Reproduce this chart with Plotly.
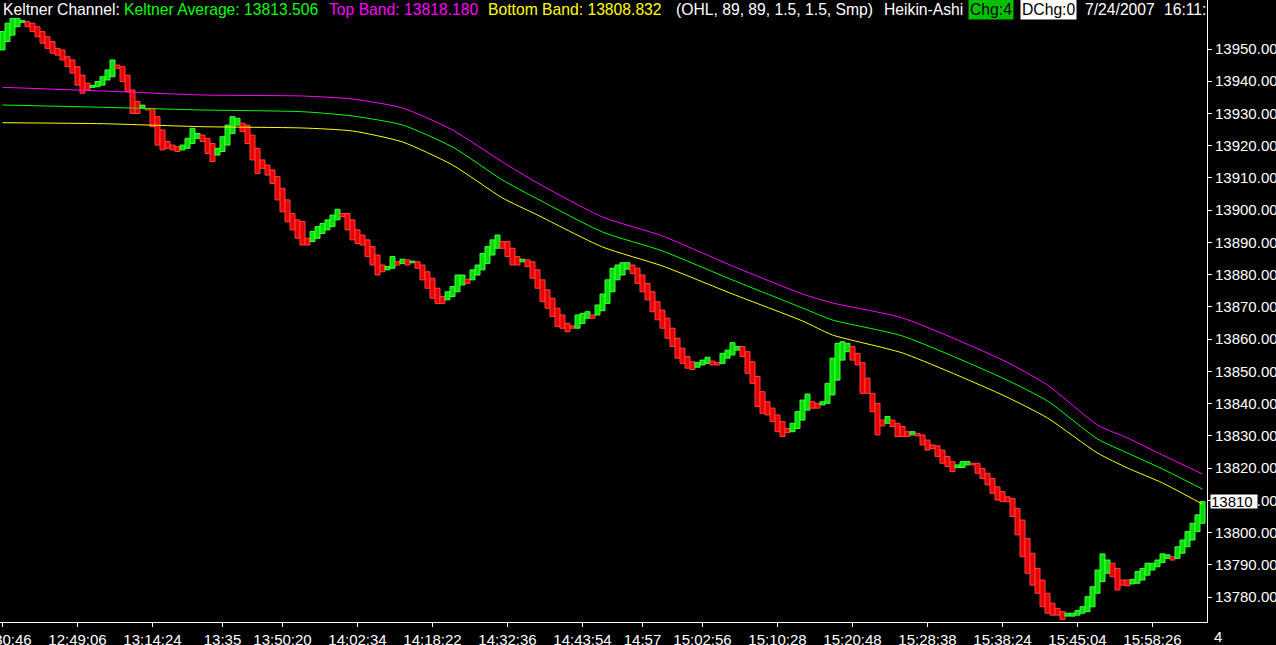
import numpy as np
import plotly.graph_objects as go

# ---------------- data ----------------
ha_open = [
    13949.7, 13952.3, 13954.3, 13956.9, 13958.2, 13958.5, 13958.0, 13956.9, 13955.4, 13953.8,
    13952.3, 13950.2, 13949.7, 13947.6, 13946.6, 13944.5, 13941.9, 13939.4, 13938.1, 13938.3,
    13938.8, 13940.4, 13941.4, 13945.0, 13944.5, 13941.9, 13937.3, 13933.7, 13931.8, 13931.6,
    13931.6, 13929.0, 13924.9, 13921.3, 13920.2, 13919.7, 13918.7, 13919.2, 13920.7, 13922.3,
    13923.3, 13922.3, 13920.7, 13917.1, 13918.2, 13920.2, 13923.8, 13926.4, 13927.0, 13926.4,
    13923.3, 13919.2, 13915.6, 13914.0, 13912.5, 13910.4, 13906.8, 13903.2, 13899.0, 13897.0,
    13896.5, 13891.3, 13890.3, 13891.3, 13892.8, 13893.9, 13894.9, 13897.0, 13899.0, 13899.0,
    13897.0, 13893.9, 13892.3, 13890.8, 13888.7, 13886.1, 13883.0, 13881.5, 13882.0, 13884.0,
    13883.5, 13884.6, 13883.7, 13884.0, 13883.0, 13880.9, 13878.9, 13875.8, 13873.2, 13872.2,
    13873.2, 13874.7, 13876.8, 13878.6, 13878.4, 13879.9, 13881.5, 13883.5, 13886.1, 13888.2,
    13890.3, 13890.3, 13888.2, 13885.6, 13884.0, 13884.6, 13884.0, 13881.5, 13878.4, 13875.3,
    13872.7, 13869.6, 13867.5, 13864.9, 13864.1, 13863.4, 13864.9, 13866.5, 13867.5, 13867.5,
    13868.8, 13871.1, 13874.7, 13878.4, 13879.9, 13881.7, 13883.0, 13882.0, 13879.9, 13877.3,
    13874.7, 13871.6, 13869.0, 13866.5, 13863.4, 13860.3, 13857.2, 13854.6, 13853.0, 13851.3,
    13852.0, 13852.5, 13853.2, 13852.7, 13852.5, 13854.1, 13855.1, 13856.6, 13857.7, 13856.1,
    13853.0, 13848.4, 13843.7, 13840.6, 13838.6, 13836.5, 13834.4, 13832.3, 13831.3, 13832.3,
    13834.9, 13838.0, 13840.6, 13840.1, 13839.6, 13840.1, 13842.7, 13847.3, 13853.5, 13856.1,
    13857.7, 13855.6, 13852.7, 13847.9, 13843.2, 13840.1, 13834.9, 13833.9, 13834.9, 13833.9,
    13832.9, 13831.3, 13830.3, 13830.8, 13830.3, 13828.7, 13827.2, 13826.9, 13825.6, 13823.6,
    13822.0, 13820.2, 13820.2, 13821.0, 13821.5, 13821.5, 13819.9, 13818.4, 13816.8, 13814.2,
    13812.7, 13811.1, 13810.6, 13807.5, 13803.9, 13798.2, 13793.6, 13788.9, 13785.3, 13781.2,
    13778.1, 13776.5, 13775.5, 13774.1, 13774.1, 13774.4, 13775.0, 13775.5, 13777.0, 13781.2,
    13784.8, 13787.4, 13790.5, 13788.9, 13785.3, 13785.3, 13784.1, 13784.3, 13785.3, 13786.8,
    13788.4, 13789.4, 13790.7, 13792.0, 13792.5, 13792.0, 13793.6, 13795.6, 13797.7, 13800.3,
    13802.9,
]
ha_close = [
    13955.4, 13958.0, 13959.5, 13959.5, 13958.8, 13956.9, 13955.4, 13953.8, 13951.8, 13950.2,
    13948.7, 13948.1, 13946.6, 13944.5, 13942.5, 13938.8, 13936.3, 13937.3, 13938.7, 13939.9,
    13941.4, 13943.5, 13946.6, 13944.0, 13939.9, 13936.8, 13930.0, 13930.0, 13932.6, 13931.1,
    13925.9, 13920.2, 13918.7, 13919.2, 13918.7, 13918.2, 13920.2, 13922.3, 13925.4, 13923.8,
    13921.3, 13917.6, 13915.1, 13919.2, 13922.8, 13926.4, 13929.0, 13928.5, 13924.4, 13920.7,
    13915.6, 13911.4, 13913.0, 13910.9, 13908.3, 13903.2, 13899.5, 13896.4, 13893.9, 13891.3,
    13889.2, 13889.2, 13893.4, 13894.9, 13895.9, 13897.0, 13898.5, 13900.3, 13898.0, 13893.9,
    13890.8, 13889.7, 13889.2, 13885.6, 13883.0, 13879.9, 13880.9, 13882.5, 13885.6, 13883.0,
    13884.8, 13883.0, 13884.2, 13882.0, 13878.4, 13875.8, 13872.7, 13871.1, 13871.1, 13874.7,
    13876.3, 13879.9, 13879.9, 13877.3, 13881.5, 13883.0, 13886.6, 13888.7, 13890.8, 13892.3,
    13888.2, 13885.6, 13883.0, 13883.0, 13884.8, 13882.5, 13878.9, 13875.8, 13871.6, 13869.6,
    13867.0, 13863.9, 13863.4, 13862.3, 13863.4, 13867.5, 13868.0, 13868.5, 13866.5, 13870.6,
    13874.0, 13878.4, 13882.0, 13883.0, 13883.7, 13883.7, 13880.4, 13877.3, 13874.7, 13872.2,
    13868.5, 13866.0, 13863.4, 13860.3, 13857.7, 13854.1, 13852.5, 13851.0, 13850.6, 13852.7,
    13853.5, 13854.4, 13852.0, 13852.0, 13855.6, 13856.6, 13858.9, 13857.7, 13854.6, 13849.4,
    13846.3, 13839.1, 13837.0, 13836.5, 13834.4, 13831.3, 13829.8, 13831.0, 13833.9, 13837.5,
    13841.1, 13843.0, 13838.6, 13838.6, 13840.6, 13846.3, 13854.1, 13858.7, 13859.2, 13858.7,
    13853.5, 13852.0, 13843.2, 13843.2, 13837.5, 13830.3, 13833.1, 13836.0, 13832.9, 13829.8,
    13829.8, 13829.8, 13831.3, 13830.0, 13827.2, 13825.6, 13826.1, 13823.6, 13821.5, 13820.5,
    13818.9, 13821.0, 13822.0, 13822.0, 13821.0, 13818.4, 13816.8, 13814.8, 13812.2, 13810.1,
    13809.6, 13809.6, 13805.0, 13799.3, 13792.5, 13787.4, 13783.7, 13781.2, 13777.0, 13775.0,
    13774.4, 13774.4, 13773.1, 13775.0, 13775.0, 13775.8, 13777.0, 13780.1, 13783.2, 13788.4,
    13793.4, 13791.5, 13786.3, 13782.2, 13783.7, 13783.5, 13785.5, 13787.9, 13788.9, 13790.5,
    13790.5, 13791.5, 13793.4, 13793.1, 13791.5, 13795.6, 13797.7, 13800.3, 13802.9, 13805.5,
    13809.6,
]

band_bars = [0, 20, 40, 60, 70, 80, 90, 100, 107, 120, 132, 146, 160, 166, 180,
             200, 209, 219, 225, 232, 240]
top_band = [13938.12, 13936.97, 13935.73, 13935.42, 13934.49, 13931.70, 13924.88,
            13914.95, 13908.44, 13897.89, 13892.00, 13882.69, 13874.01, 13871.22,
            13866.57, 13853.54, 13845.78, 13833.38, 13829.35, 13824.07, 13818.18]
keltner_avg = [13932.63, 13931.92, 13931.08, 13930.55, 13929.22, 13926.43, 13919.61,
               13909.37, 13903.48, 13893.24, 13887.35, 13878.35, 13869.67, 13865.95,
               13860.98, 13847.96, 13840.82, 13829.04, 13824.69, 13819.73, 13813.506]
bottom_band = [13927.14, 13926.83, 13925.90, 13925.50, 13924.57, 13921.16, 13914.02,
               13903.79, 13898.51, 13888.59, 13882.69, 13874.01, 13865.64, 13861.29,
               13855.71, 13842.68, 13835.55, 13824.69, 13820.04, 13815.39, 13808.832]

tick_bars = [0, 15, 30, 44, 56, 71, 86, 101, 116, 128, 140, 155, 170, 185, 200, 215, 230]
tick_labels = ["12:30:46", "12:49:06", "13:14:24", "13:35", "13:50:20", "14:02:34",
               "14:18:22", "14:32:36", "14:43:54", "14:57", "15:02:56", "15:10:28",
               "15:20:48", "15:28:38", "15:38:24", "15:45:04", "15:58:26"]
price_ticks = list(range(13780, 13951, 10))

# ---------------- figure ----------------
o = np.array(ha_open)
c = np.array(ha_close)
bars = np.arange(len(o))
up = c >= o
fill = np.where(up, "#00dd00", "#e80000")
edge = np.where(up, "#40ff40", "#ff4040")

FONT = "Arial, 'Liberation Sans', sans-serif"

fig = go.Figure()
fig.add_trace(go.Bar(
    x=bars, y=c - o, base=o, width=1,
    marker=dict(color=list(fill), line=dict(color=list(edge), width=1)),
    hoverinfo="skip",
))
fig.add_trace(go.Scatter(x=band_bars, y=top_band, mode="lines",
                         line=dict(color="#ff00ff", width=1, shape="spline", smoothing=0.6)))
fig.add_trace(go.Scatter(x=band_bars, y=keltner_avg, mode="lines",
                         line=dict(color="#00ff00", width=1, shape="spline", smoothing=0.6)))
fig.add_trace(go.Scatter(x=band_bars, y=bottom_band, mode="lines",
                         line=dict(color="#ffff00", width=1, shape="spline", smoothing=0.6)))

PW = 1207.0
PH = 622.0

header = [
    ("Keltner Channel:", 1, "#ffffff", None),
    (f"Keltner Average: {keltner_avg[-1]:.3f}", 122, "#00ff00", None),
    (f"Top Band: {top_band[-1]:.3f}", 327, "#ff00ff", None),
    (f"Bottom Band: {bottom_band[-1]:.3f}", 486, "#ffff00", None),
    ("(OHL, 89, 89, 1.5, 1.5, Smp)", 674, "#ffffff", None),
    ("Heikin-Ashi", 882, "#ffffff", None),
    ("Chg:4", 968, "#000000", "#00c000"),
    ("DChg:0", 1020, "#000000", "#ffffff"),
    ("7/24/2007", 1083, "#ffffff", None),
    ("16:11:", 1162, "#ffffff", None),
]
annotations = []
for text, px, col, bg in header:
    a = dict(text=text, xref="paper", yref="paper", x=px / PW, y=1.0 - 10 / PH,
             xanchor="left", yanchor="middle", showarrow=False,
             font=dict(family=FONT, size=15.7, color=col), borderpad=1)
    if bg:
        a["bgcolor"] = bg
    annotations.append(a)

annotations.append(dict(text=f"{ha_close[-1]:.0f}", xref="paper", yref="y",
                        x=1210 / PW, y=ha_close[-1], xanchor="left", yanchor="middle",
                        showarrow=False, bgcolor="#ffffff", borderpad=0,
                        width=46, height=13, align="left", valign="middle",
                        font=dict(family=FONT, size=15, color="#000000")))
annotations.append(dict(text="4", xref="paper", yref="paper",
                        x=1218 / PW, y=(PH - 636) / PH, xanchor="center",
                        yanchor="middle", showarrow=False,
                        font=dict(family=FONT, size=15, color="#ffffff")))

fig.update_layout(
    width=1276, height=645, autosize=False,
    margin=dict(l=0, r=1276 - 1207, t=0, b=645 - 622, pad=0, autoexpand=False),
    paper_bgcolor="#000000", plot_bgcolor="#000000",
    showlegend=False, bargap=0,
    annotations=annotations,
    xaxis=dict(
        range=[-0.5, 240.9], tickmode="array", tickvals=tick_bars, ticktext=tick_labels,
        ticks="outside", ticklen=4, tickcolor="#ffffff", showline=True,
        linecolor="#ffffff", linewidth=1, showgrid=False, zeroline=False,
        tickfont=dict(family=FONT, size=15, color="#ffffff"),
        ticklabeloverflow="allow", automargin=False, fixedrange=True,
    ),
    yaxis=dict(
        side="right", range=[13772.27, 13965.2], tickmode="array",
        tickvals=price_ticks, ticktext=[f"{v:.2f}" for v in price_ticks],
        ticks="outside", ticklen=4, tickcolor="#ffffff", showline=True,
        linecolor="#ffffff", linewidth=1, showgrid=False, zeroline=False,
        tickfont=dict(family=FONT, size=15, color="#ffffff"),
        ticklabeloverflow="allow", automargin=False, fixedrange=True,
    ),
)

fig.write_html(
    "out.html",
    config={"displayModeBar": False, "staticPlot": True},
    post_script="document.body.style.margin='0';document.body.style.background='#000';"
                "document.body.style.overflow='hidden';",
)
